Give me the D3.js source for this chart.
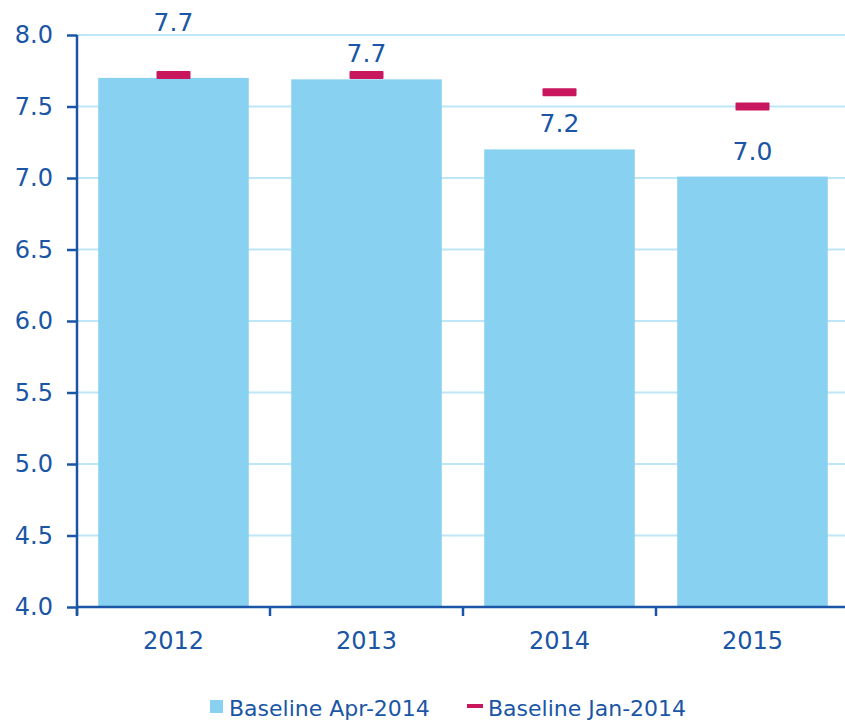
<!DOCTYPE html>
<html>
<head>
<meta charset="utf-8">
<script src="https://cdn.jsdelivr.net/npm/d3@7"></script>
<style>
  body { margin: 0; background: #fff; }
  text { font-family: "DejaVu Sans", Verdana, sans-serif; }
</style>
</head>
<body>
<div id="chart"></div>
<script>
var years = ["2012", "2013", "2014", "2015"];
var baselineApr = [7.70, 7.69, 7.20, 7.01];
var baselineJan = [7.72, 7.72, 7.60, 7.50];
var valueLabels = ["7.7", "7.7", "7.2", "7.0"];
var yTicks = [4.0, 4.5, 5.0, 5.5, 6.0, 6.5, 7.0, 7.5, 8.0];

var W = 845, H = 720;
var blue = "#1a56a5", barColor = "#89d1f1", markColor = "#c8175d", gridColor = "#bde6f7";

var svg = d3.select("#chart").append("svg").attr("width", W).attr("height", H);

var x = d3.scaleBand().domain(years).range([77, 849]).paddingInner(0.22).paddingOuter(0.11);
var y = d3.scaleLinear().domain([4, 8]).range([607, 35]);

// gridlines
svg.append("g").selectAll("line")
  .data(yTicks.slice(1))
  .enter().append("line")
  .attr("x1", 77).attr("x2", W)
  .attr("y1", function (d) { return y(d); })
  .attr("y2", function (d) { return y(d); })
  .attr("stroke", gridColor).attr("stroke-width", 2);

// bars
svg.append("g").selectAll("rect")
  .data(years)
  .enter().append("rect")
  .attr("x", function (d) { return x(d); })
  .attr("width", x.bandwidth())
  .attr("y", function (d, i) { return y(baselineApr[i]); })
  .attr("height", function (d, i) { return y(4) - y(baselineApr[i]); })
  .attr("fill", barColor);

// jan markers
svg.append("g").selectAll("rect")
  .data(years)
  .enter().append("rect")
  .attr("x", function (d) { return x(d) + x.bandwidth() / 2 - 17; })
  .attr("width", 34)
  .attr("y", function (d, i) { return y(baselineJan[i]) - 4; })
  .attr("height", 8)
  .attr("rx", 1)
  .attr("fill", markColor);

// value labels
var labelShift = [-40, -9, -17, -17];
svg.append("g").selectAll("text")
  .data(years)
  .enter().append("text")
  .attr("x", function (d) { return x(d) + x.bandwidth() / 2; })
  .attr("y", function (d, i) {
    var top = Math.min(y(baselineApr[i]), y(baselineJan[i]) - 4);
    return (i < 2 ? top : y(baselineApr[i])) + labelShift[i];
  })
  .attr("text-anchor", "middle")
  .attr("font-size", 25)
  .attr("fill", blue)
  .text(function (d, i) { return valueLabels[i]; });

// y axis
var yAxis = d3.axisLeft(y).tickValues(yTicks).tickFormat(d3.format(".1f")).tickSize(10).tickPadding(14);
var gy = svg.append("g").attr("transform", "translate(77,0)").call(yAxis);
gy.select(".domain").attr("stroke", blue).attr("stroke-width", 2.5).attr("d", "M0,35V615");
gy.selectAll(".tick line").attr("stroke", blue).attr("stroke-width", 2.5);
gy.selectAll(".tick text").attr("fill", blue).attr("font-size", 24)
  .style("font-family", "'DejaVu Sans', Verdana, sans-serif");

// x axis
svg.append("line").attr("x1", 77).attr("x2", W).attr("y1", 607).attr("y2", 607)
  .attr("stroke", blue).attr("stroke-width", 2.5);
var step = x.step();
svg.append("g").selectAll("line")
  .data(years)
  .enter().append("line")
  .attr("x1", function (d) { return x(d) - x.paddingOuter() * step; })
  .attr("x2", function (d) { return x(d) - x.paddingOuter() * step; })
  .attr("y1", 607).attr("y2", 616)
  .attr("stroke", blue).attr("stroke-width", 2.5);
svg.append("g").selectAll("text")
  .data(years)
  .enter().append("text")
  .attr("x", function (d) { return x(d) + x.bandwidth() / 2; })
  .attr("y", 649)
  .attr("text-anchor", "middle")
  .attr("font-size", 24)
  .attr("fill", blue)
  .text(function (d) { return d; });

// legend
var lg = svg.append("g");
lg.append("rect").attr("x", 210).attr("y", 700).attr("width", 13).attr("height", 13).attr("fill", barColor);
lg.append("text").attr("x", 229).attr("y", 716).attr("font-size", 22).attr("fill", blue).text("Baseline Apr-2014");
lg.append("rect").attr("x", 467).attr("y", 704).attr("width", 16).attr("height", 4).attr("fill", markColor);
lg.append("text").attr("x", 488).attr("y", 716).attr("font-size", 22).attr("fill", blue).text("Baseline Jan-2014");
</script>
</body>
</html>
